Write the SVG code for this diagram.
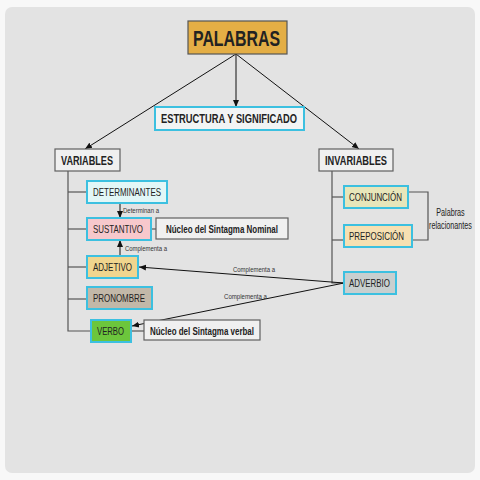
<svg xmlns="http://www.w3.org/2000/svg" width="480" height="480" viewBox="0 0 480 480">
<defs>
<marker id="ah" markerWidth="8" markerHeight="8" refX="7" refY="4" orient="auto" markerUnits="userSpaceOnUse">
<path d="M0,1 L7,4 L0,7 Z" fill="#111"/>
</marker>
<style>
.box{stroke-width:2}
.cy{stroke:#3cc0e0}
.gr{stroke:#606060;stroke-width:1.2}
.t{font-family:"Liberation Sans",Arial,sans-serif;fill:#222}
.b{font-weight:bold}
.ln{stroke:#555;stroke-width:1.2;fill:none}
.ar{stroke:#111;stroke-width:1;fill:none;marker-end:url(#ah)}
.sm{font-size:7px;fill:#333}
.n{font-size:10.5px}
</style>
</defs>
<rect x="0" y="0" width="480" height="480" fill="#f8f8f8"/>
<rect x="5" y="7" width="470" height="466" rx="7" fill="#e3e3e3"/>

<g id="connectors">
<line class="ar" x1="236" y1="54" x2="85" y2="149"/>
<line class="ar" x1="236" y1="54" x2="236" y2="107"/>
<line class="ar" x1="236" y1="54" x2="359" y2="149"/>
<polyline class="ln" points="68,171 68,331 91,331"/>
<line class="ln" x1="68" y1="192" x2="87" y2="192"/>
<line class="ln" x1="68" y1="229" x2="87" y2="229"/>
<line class="ln" x1="68" y1="267" x2="87" y2="267"/>
<line class="ln" x1="68" y1="299" x2="87" y2="299"/>
<line class="ln" x1="151" y1="229" x2="156" y2="229"/>
<line class="ln" x1="131" y1="331" x2="144" y2="331"/>
<line class="ar" x1="120" y1="203" x2="120" y2="218"/>
<line class="ar" x1="120" y1="256" x2="120" y2="240"/>
<polyline class="ln" points="332,171 332,283 344,283"/>
<line class="ln" x1="332" y1="197" x2="344" y2="197"/>
<line class="ln" x1="332" y1="240" x2="344" y2="240"/>
<polyline class="ln" points="408,192 428,192 428,240 412,240"/>
<line class="ar" x1="344" y1="283" x2="139" y2="267"/>
<line class="ar" x1="344" y1="283" x2="132" y2="326"/>
<text class="t sm" x="123" y="213" textLength="36" lengthAdjust="spacingAndGlyphs">Determinan a</text>
<text class="t sm" x="125" y="251" textLength="42" lengthAdjust="spacingAndGlyphs">Complementa a</text>
<text class="t sm" x="233" y="272" textLength="42" lengthAdjust="spacingAndGlyphs">Complementa a</text>
<text class="t sm" x="224" y="299" textLength="43" lengthAdjust="spacingAndGlyphs">Complementa a</text>
<text class="t" transform="translate(450.5,216) scale(0.72,1)" x="0" y="0" font-size="10" text-anchor="middle">Palabras</text>
<text class="t" transform="translate(450.5,229) scale(0.72,1)" x="0" y="0" font-size="10" text-anchor="middle">relacionantes</text>
</g>

<g id="palabras">
<rect x="188" y="21" width="99" height="33" fill="#e4ae45" stroke="#555" stroke-width="1.2"/>
<text class="t b" x="193" y="46" font-size="22" textLength="87" lengthAdjust="spacingAndGlyphs">PALABRAS</text>
</g>
<g id="estructura">
<rect class="box cy" x="155" y="107" width="149" height="23" fill="#f2f4f4"/>
<text class="t b" x="161" y="123" font-size="13" textLength="136" lengthAdjust="spacingAndGlyphs">ESTRUCTURA Y SIGNIFICADO</text>
</g>
<g id="variables">
<rect class="gr" x="55" y="149" width="65" height="22" fill="#f0f0f0"/>
<text class="t b" x="61" y="164.5" font-size="12" textLength="52" lengthAdjust="spacingAndGlyphs">VARIABLES</text>
</g>
<g id="invariables">
<rect class="gr" x="319" y="149" width="74" height="22" fill="#f0f0f0"/>
<text class="t b" x="325" y="164.5" font-size="12" textLength="62" lengthAdjust="spacingAndGlyphs">INVARIABLES</text>
</g>
<g id="determinantes">
<rect class="box cy" x="87" y="181" width="80" height="22" fill="#e2f7f7"/>
<text class="t n" x="93" y="195.5" textLength="68" lengthAdjust="spacingAndGlyphs">DETERMINANTES</text>
</g>
<g id="sustantivo">
<rect class="box cy" x="87" y="218" width="64" height="22" fill="#f7c8cc"/>
<text class="t n" x="93" y="233" textLength="50" lengthAdjust="spacingAndGlyphs">SUSTANTIVO</text>
</g>
<g id="nucleo-nominal">
<rect class="gr" x="156" y="218" width="132" height="21" fill="#f0f0f0"/>
<text class="t b" x="166" y="232.5" font-size="10.5" textLength="112" lengthAdjust="spacingAndGlyphs">Núcleo del Sintagma Nominal</text>
</g>
<g id="adjetivo">
<rect class="box cy" x="87" y="256" width="51" height="22" fill="#f0d58e"/>
<text class="t n" x="93" y="270.5" textLength="39" lengthAdjust="spacingAndGlyphs">ADJETIVO</text>
</g>
<g id="pronombre">
<rect class="box cy" x="87" y="287" width="65" height="22" fill="#c2b8a8"/>
<text class="t n" x="93" y="302" textLength="52" lengthAdjust="spacingAndGlyphs">PRONOMBRE</text>
</g>
<g id="verbo">
<rect class="box cy" x="91" y="320" width="40" height="22" fill="#6cc63c"/>
<text class="t n" x="97" y="335" textLength="27" lengthAdjust="spacingAndGlyphs">VERBO</text>
</g>
<g id="nucleo-verbal">
<rect class="gr" x="144" y="320" width="116" height="20" fill="#f0f0f0"/>
<text class="t b" x="150" y="334.5" font-size="10.5" textLength="104" lengthAdjust="spacingAndGlyphs">Núcleo del Sintagma verbal</text>
</g>
<g id="conjuncion">
<rect class="box cy" x="344" y="186" width="64" height="22" fill="#e8e6ba"/>
<text class="t n" x="349" y="200.5" textLength="53" lengthAdjust="spacingAndGlyphs">CONJUNCIÓN</text>
</g>
<g id="preposicion">
<rect class="box cy" x="344" y="225" width="68" height="22" fill="#f6e0b2"/>
<text class="t n" x="349" y="239.5" textLength="55" lengthAdjust="spacingAndGlyphs">PREPOSICIÓN</text>
</g>
<g id="adverbio">
<rect class="box cy" x="344" y="272" width="52" height="22" fill="#c8cfcf"/>
<text class="t n" x="349" y="286.5" textLength="41" lengthAdjust="spacingAndGlyphs">ADVERBIO</text>
</g>
</svg>
